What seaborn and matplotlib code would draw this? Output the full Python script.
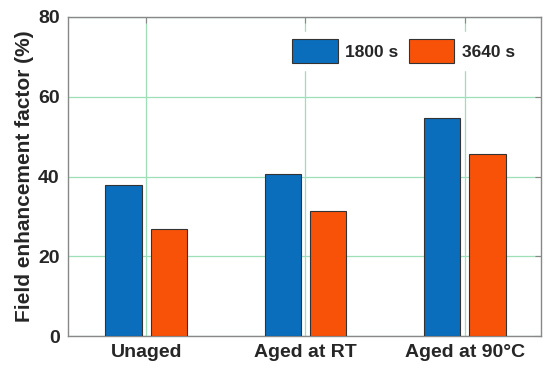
import pandas as pd
import seaborn as sns
import matplotlib.pyplot as plt

conditions = ["Unaged", "Aged at RT", "Aged at 90\u00b0C"]
times = ["1800 s", "3640 s"]
values_1800 = [37.8, 40.6, 54.7]
values_3640 = [26.8, 31.3, 45.6]

colors = ["#0a6ebd", "#f85208"]
grid_color = "#9fdfb8"


def build_frame():
    rows = []
    for cond, a, b in zip(conditions, values_1800, values_3640):
        rows.append({"condition": cond, "time": times[0], "value": a})
        rows.append({"condition": cond, "time": times[1], "value": b})
    return pd.DataFrame(rows)


def plot_bars(df):
    sns.set_style("white")
    plt.rcParams["font.family"] = ["Liberation Sans", "DejaVu Sans"]
    plt.rcParams["font.weight"] = "bold"

    fig, ax = plt.subplots(figsize=(5.5, 3.76), dpi=100)
    sns.barplot(data=df, x="condition", y="value", hue="time", palette=colors,
                saturation=1, width=0.57, gap=0.2, edgecolor="#333333",
                linewidth=0.8, ax=ax, zorder=3)

    ax.set_ylim(0, 80)
    ax.set_xlim(-0.49, 2.48)
    ax.set_yticks([0, 20, 40, 60, 80])
    ax.grid(True, color=grid_color, linewidth=0.9)
    ax.set_axisbelow(True)
    ax.tick_params(direction="in", length=4, top=True, right=True,
                   labelsize=14, color="#888888", pad=6)
    for lab in ax.get_xticklabels() + ax.get_yticklabels():
        lab.set_fontweight("bold")
        lab.set_color("#262626")
    for sp in ax.spines.values():
        sp.set_color("#888888")
        sp.set_linewidth(1.0)

    ax.set_xlabel("")
    ax.set_ylabel("Field enhancement factor (%)", fontsize=15,
                  fontweight="bold", color="#262626", labelpad=3)

    leg = ax.legend(loc="upper right", bbox_to_anchor=(0.978, 0.98), ncol=2,
                    frameon=True, framealpha=1, edgecolor="white",
                    handlelength=2.6, handleheight=1.75, columnspacing=0.6,
                    handletextpad=0.45, prop={"weight": "bold", "size": 12.5})
    for t in leg.get_texts():
        t.set_color("#262626")

    fig.subplots_adjust(left=0.124, right=0.984, top=0.955, bottom=0.106)
    fig.savefig("out.png", dpi=100)


if __name__ == "__main__":
    plot_bars(build_frame())
